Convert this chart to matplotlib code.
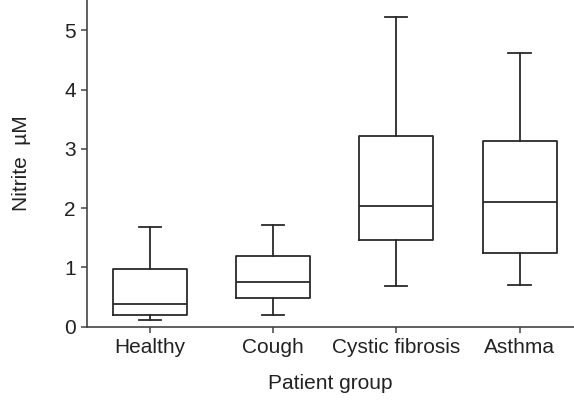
import matplotlib
matplotlib.use("Agg")
import matplotlib.pyplot as plt

plt.rcParams['font.family'] = ['Liberation Sans', 'DejaVu Sans']

groups = ["Healthy", "Cough", "Cystic fibrosis", "Asthma"]
whisker_low = [0.12, 0.20, 0.69, 0.70]
q1 = [0.20, 0.49, 1.46, 1.25]
median = [0.39, 0.75, 2.04, 2.11]
q3 = [0.97, 1.19, 3.21, 3.14]
whisker_high = [1.68, 1.72, 5.23, 4.61]
yticks = [0, 1, 2, 3, 4, 5]

stats = []
for g, wl, a, m, b, wh in zip(groups, whisker_low, q1, median, q3, whisker_high):
    stats.append(dict(label=g, whislo=wl, q1=a, med=m, q3=b, whishi=wh, fliers=[]))

fig = plt.figure(figsize=(5.74, 4.0), dpi=100)
ax = fig.add_axes([0.1516, 0.183, 0.848, 0.817])

lc = '#2a2a2a'
lw = 1.3
ax.bxp(stats, positions=range(len(groups)), widths=0.6, showfliers=False,
       boxprops=dict(color=lc, linewidth=lw),
       whiskerprops=dict(color=lc, linewidth=lw),
       capprops=dict(color=lc, linewidth=lw),
       medianprops=dict(color=lc, linewidth=lw),
       capwidths=0.18)

ax.set_xlim(-0.51, 3.44)
ax.set_ylim(0, 5.51)
ax.set_yticks(yticks)
ax.set_xticks(range(len(groups)))
ax.set_xticklabels(groups)
for s in ['top', 'right']:
    ax.spines[s].set_visible(False)
for s in ['left', 'bottom']:
    ax.spines[s].set_color('#444444')
    ax.spines[s].set_linewidth(1.2)
ax.tick_params(axis='both', direction='out', length=4, width=1.1, color='#444444',
               labelsize=15, labelcolor='#222222', pad=4)
ax.set_ylabel("Nitrite  µM", fontsize=15, color='#222222', labelpad=24)
ax.set_xlabel("Patient group", fontsize=15, color='#222222', labelpad=12)

fig.savefig("out.png", dpi=100)
